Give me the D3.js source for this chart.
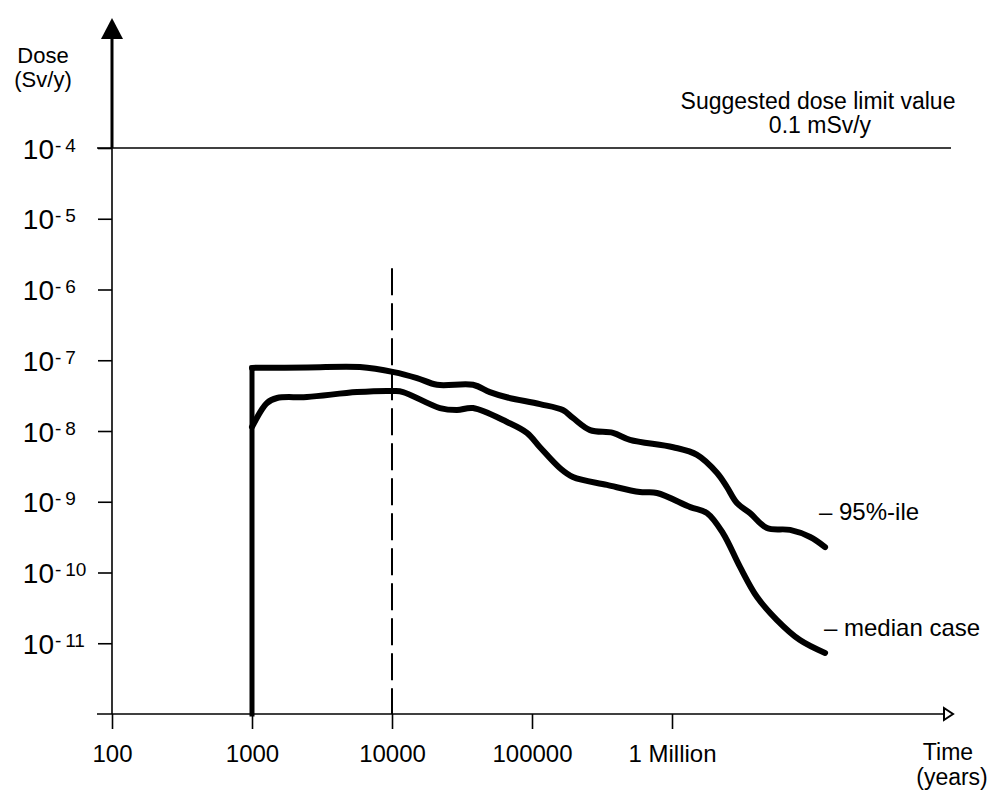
<!DOCTYPE html>
<html>
<head>
<meta charset="utf-8">
<script src="https://cdn.jsdelivr.net/npm/d3@7"></script>
<style>
    body { margin: 0; background: #fff; }
    svg text { font-family: "Liberation Sans", Arial, Helvetica, sans-serif; fill: #000; }
</style>
</head>
<body>
<div id="chart"></div>
<script>
// tick values and labels
const timeTicks = [100, 1000, 10000, 100000, 1000000];
const timeTickLabels = ["100", "1000", "10000", "100000", "1 Million"];
const doseExponents = [-4, -5, -6, -7, -8, -9, -10, -11];

// reference lines
const doseLimit = 1e-4;
const markerYear = 10000;
const markerTopDose = 2e-6;
const releaseYear = 1000;

// 95%-ile curve (years, Sv/y)
const p95Years = [1000, 2500, 5900, 10300, 15100, 21000, 37900, 50000, 66000, 114000, 166000, 196000, 260000, 379000, 501000, 1020000, 1510000, 2100000, 2470000, 2910000, 3610000, 4770000, 6970000, 9700000, 12400000];
const p95Dose = [7.8e-8, 7.9e-8, 8.0e-8, 6.8e-8, 5.6e-8, 4.5e-8, 4.5e-8, 3.55e-8, 3.0e-8, 2.4e-8, 1.98e-8, 1.53e-8, 1.03e-8, 9.4e-9, 7.5e-9, 5.9e-9, 4.6e-9, 2.55e-9, 1.61e-9, 9.6e-10, 6.9e-10, 4.25e-10, 4.0e-10, 3.18e-10, 2.29e-10];

// median case curve
const medYears = [1000, 1280, 1510, 2470, 5620, 10300, 12000, 22000, 29100, 37900, 66300, 92000, 114000, 158000, 196000, 343000, 590000, 781000, 1350000, 1780000, 2310000, 3060000, 4050000, 5620000, 8200000, 12400000];
const medDose = [1.14e-8, 2.49e-8, 2.93e-8, 3.02e-8, 3.55e-8, 3.67e-8, 3.55e-8, 2.11e-8, 1.98e-8, 2.11e-8, 1.34e-8, 9.4e-9, 5.9e-9, 3.0e-9, 2.24e-9, 1.73e-9, 1.37e-9, 1.33e-9, 8.4e-10, 6.9e-10, 3.6e-10, 1.2e-10, 4.5e-11, 2.13e-11, 1.11e-11, 7.3e-12];

const width = 1008;
const height = 790;

const svg = d3.select("#chart").append("svg")
    .attr("width", width)
    .attr("height", height);

const x = d3.scaleLog()
    .domain([100, 1e8])
    .range([112, 952]);

const y = d3.scaleLog()
    .domain([1e-12, 1e-4])
    .range([714, 148]);

const x0 = x(100);
const y0 = y(1e-12);

// y axis line, heavier above the limit line
svg.append("line")
    .attr("x1", x0).attr("x2", x0)
    .attr("y1", y0).attr("y2", y(doseLimit))
    .attr("stroke", "#000").attr("stroke-width", 1.6);
svg.append("line")
    .attr("x1", x0).attr("x2", x0)
    .attr("y1", y(doseLimit)).attr("y2", 36)
    .attr("stroke", "#000").attr("stroke-width", 3);
svg.append("path")
    .attr("d", `M${x0},18 L${x0 - 11},39 L${x0 + 11},39 Z`)
    .attr("fill", "#000");

// x axis line with open arrow
svg.append("line")
    .attr("x1", 97).attr("x2", 944)
    .attr("y1", y0).attr("y2", y0)
    .attr("stroke", "#000").attr("stroke-width", 1.6);
svg.append("path")
    .attr("d", `M944,${y0 - 6} L953,${y0} L944,${y0 + 6} Z`)
    .attr("fill", "#fff")
    .attr("stroke", "#000")
    .attr("stroke-width", 2);

// x ticks
const xAxis = svg.append("g")
    .attr("transform", `translate(0,${y0})`)
    .call(d3.axisBottom(x)
        .tickValues(timeTicks)
        .tickFormat((d, i) => timeTickLabels[i])
        .tickSize(15));
xAxis.select(".domain").remove();
xAxis.selectAll(".tick line").attr("stroke", "#000").attr("stroke-width", 1.6);
xAxis.selectAll(".tick text")
    .attr("y", 48)
    .attr("dy", null)
    .style("font-size", "24px")
    .attr("fill", "#000");

// y ticks, labelled 10 with a raised exponent
const yAxis = svg.append("g")
    .attr("transform", `translate(${x0},0)`)
    .call(d3.axisLeft(y)
        .tickValues(doseExponents.map(e => Math.pow(10, e)))
        .tickFormat("")
        .tickSize(14));
yAxis.select(".domain").remove();
yAxis.selectAll(".tick line").attr("stroke", "#000").attr("stroke-width", 1.6);
yAxis.selectAll(".tick").each(function(d, i) {
    const g = d3.select(this);
    g.append("text")
        .attr("x", 54 - x0)
        .attr("y", 10)
        .attr("text-anchor", "end")
        .style("font-size", "28px")
        .text("10");
    g.append("text")
        .attr("x", 55 - x0)
        .attr("y", 3)
        .attr("text-anchor", "start")
        .style("font-size", "19px")
        .text(String(doseExponents[i]).replace("-", "-\u2009"));
});

// dose limit line
svg.append("line")
    .attr("x1", 97).attr("x2", 951)
    .attr("y1", y(doseLimit)).attr("y2", y(doseLimit))
    .attr("stroke", "#000").attr("stroke-width", 1.6);

// dashed marker at 10000 years
svg.append("line")
    .attr("x1", x(markerYear)).attr("x2", x(markerYear))
    .attr("y1", y(markerTopDose)).attr("y2", y0)
    .attr("stroke", "#000")
    .attr("stroke-width", 2)
    .attr("stroke-dasharray", "27,8");

// curves
const line = d3.line()
    .x(d => x(d[0]))
    .y(d => y(d[1]))
    .curve(d3.curveCatmullRom.alpha(0.5));

svg.append("line")
    .attr("x1", x(releaseYear)).attr("x2", x(releaseYear))
    .attr("y1", y0).attr("y2", y(p95Dose[0]))
    .attr("stroke", "#000")
    .attr("stroke-width", 5)
    .attr("stroke-linecap", "square");

svg.append("path")
    .datum(d3.zip(p95Years, p95Dose))
    .attr("d", line)
    .attr("fill", "none")
    .attr("stroke", "#000")
    .attr("stroke-width", 6)
    .attr("stroke-linecap", "round")
    .attr("stroke-linejoin", "round");

svg.append("path")
    .datum(d3.zip(medYears, medDose))
    .attr("d", line)
    .attr("fill", "none")
    .attr("stroke", "#000")
    .attr("stroke-width", 6)
    .attr("stroke-linecap", "round")
    .attr("stroke-linejoin", "round");

// text labels
svg.append("text")
    .attr("x", 43).attr("y", 63)
    .attr("text-anchor", "middle")
    .style("font-size", "22px")
    .text("Dose");
svg.append("text")
    .attr("x", 43).attr("y", 87)
    .attr("text-anchor", "middle")
    .style("font-size", "22px")
    .text("(Sv/y)");

svg.append("text")
    .attr("x", 818).attr("y", 109)
    .attr("text-anchor", "middle")
    .style("font-size", "23px")
    .text("Suggested dose limit value");
svg.append("text")
    .attr("x", 820).attr("y", 133)
    .attr("text-anchor", "middle")
    .style("font-size", "23px")
    .text("0.1 mSv/y");

svg.append("text")
    .attr("x", 948).attr("y", 760)
    .attr("text-anchor", "middle")
    .style("font-size", "23px")
    .text("Time");
svg.append("text")
    .attr("x", 952).attr("y", 785)
    .attr("text-anchor", "middle")
    .style("font-size", "23px")
    .text("(years)");

svg.append("text")
    .attr("x", 819).attr("y", 520)
    .style("font-size", "24px")
    .text("\u2013 95%-ile");
svg.append("text")
    .attr("x", 824).attr("y", 636)
    .style("font-size", "24px")
    .text("\u2013 median case");
</script>
</body>
</html>
